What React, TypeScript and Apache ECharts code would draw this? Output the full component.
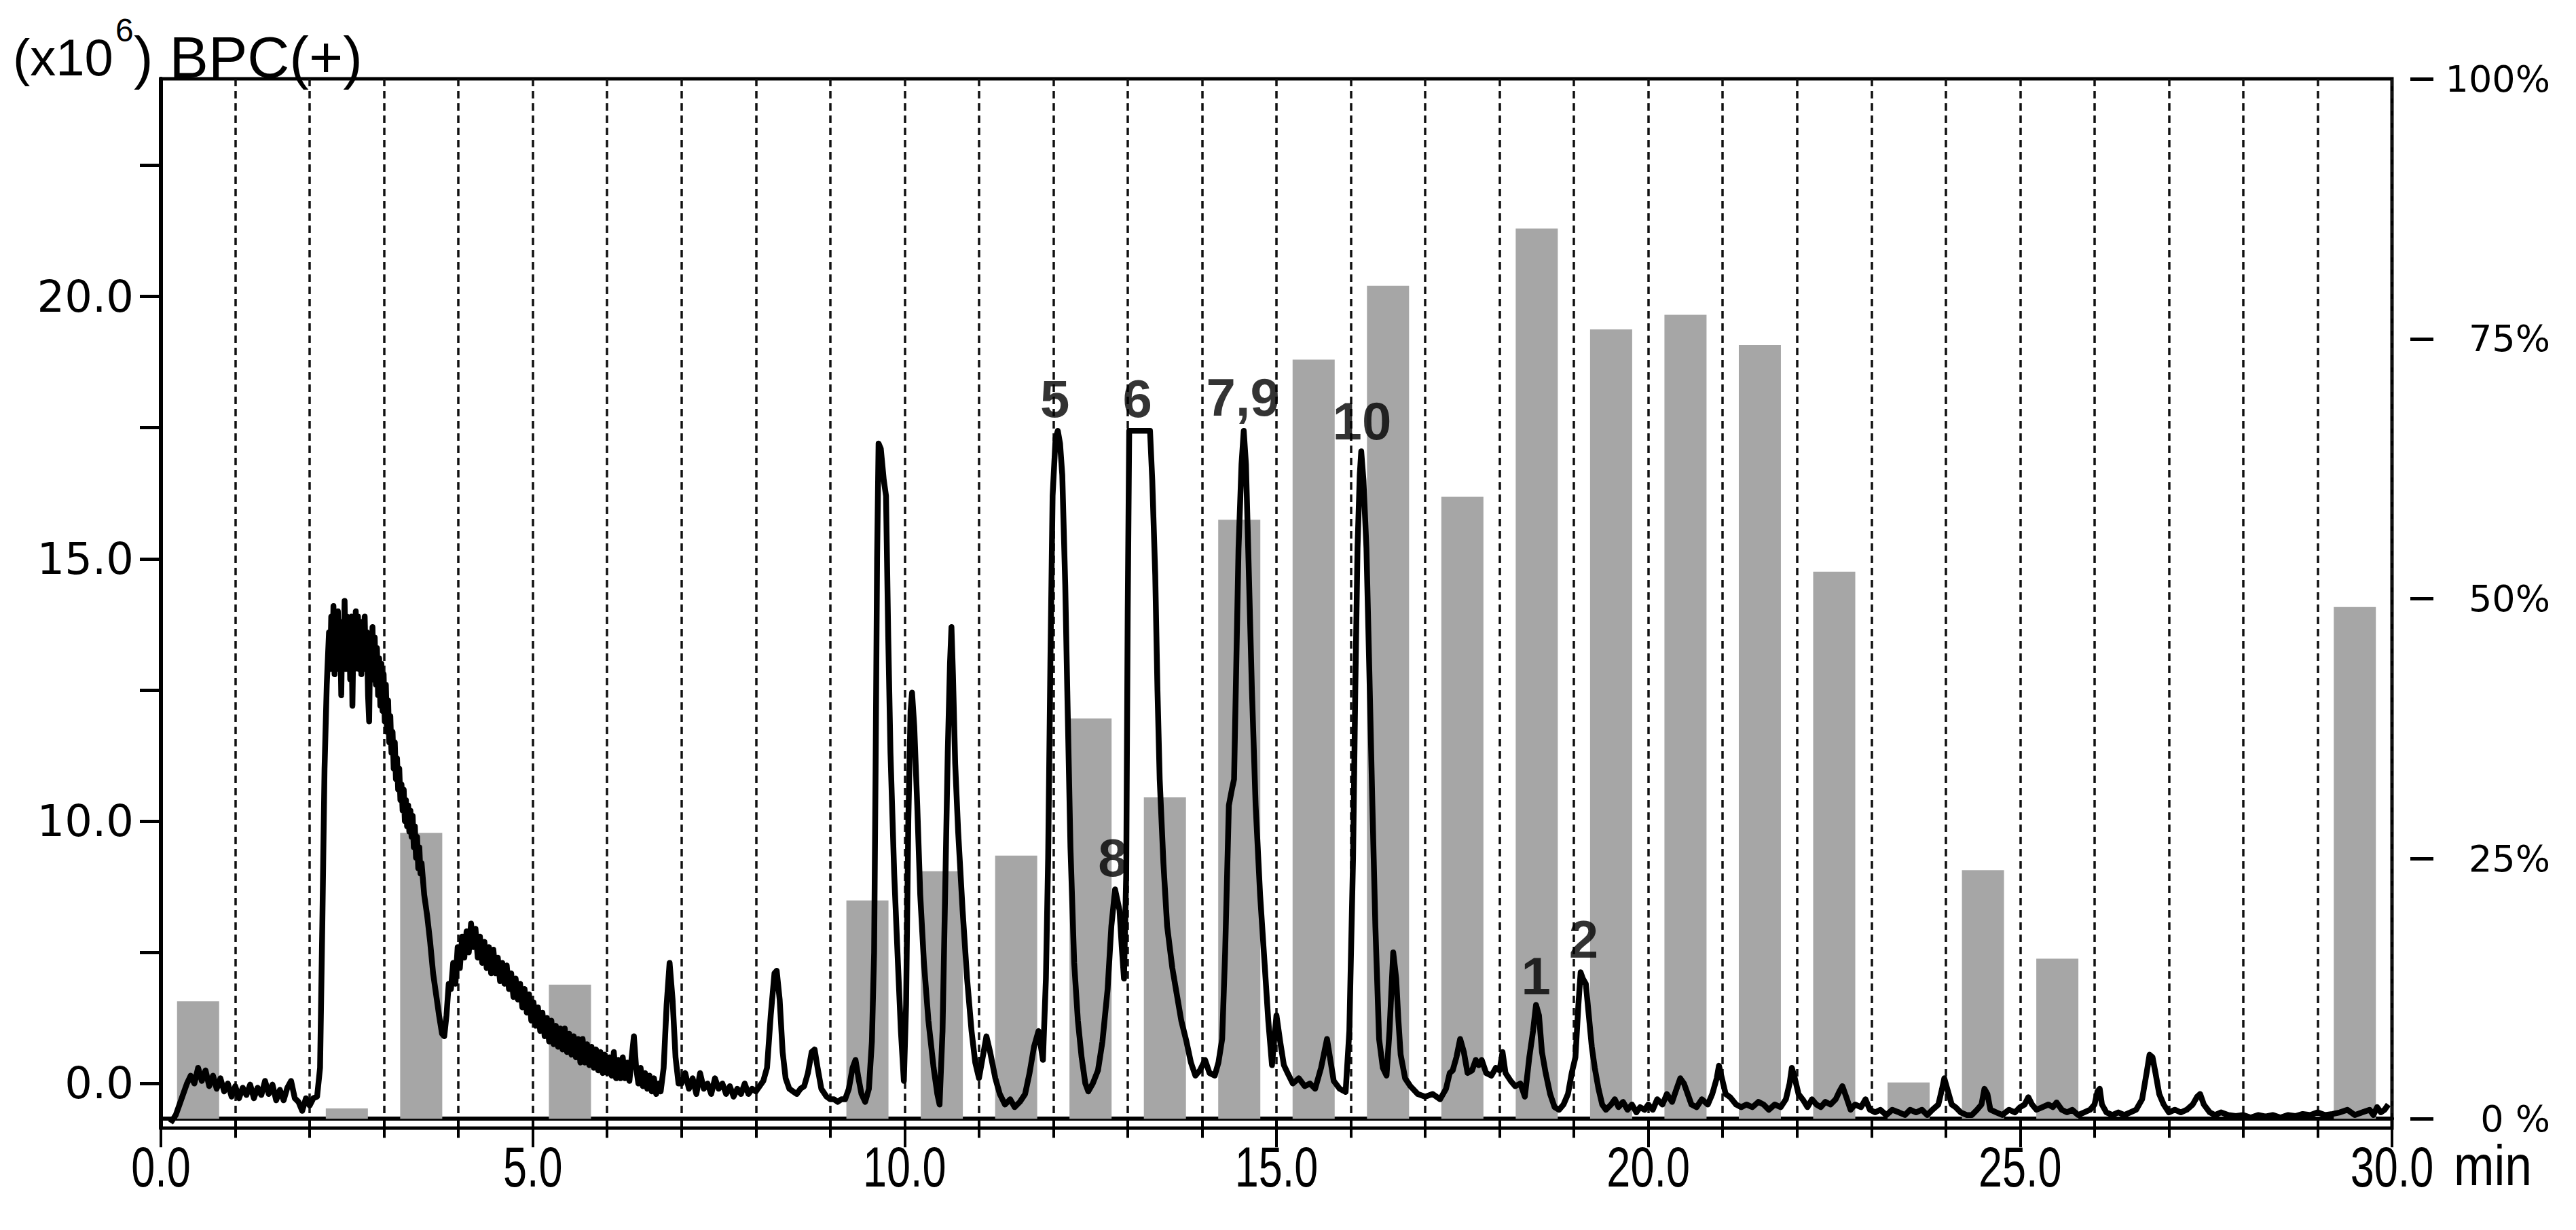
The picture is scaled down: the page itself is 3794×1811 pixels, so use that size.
import React, { useEffect, useRef } from "react";
import * as echarts from "echarts";

// ---------- data ----------
const xTickValues = [0, 5, 10, 15, 20, 25, 30];
const xTickLabels = ["0.0", "5.0", "10.0", "15.0", "20.0", "25.0", "30.0"];

const yLeftTicks = [5, 7.5, 10, 12.5, 15, 17.5, 20, 22.5];
const yLeftLabelValues = [5, 10, 15, 20];
const yLeftLabels = ["0.0", "10.0", "15.0", "20.0"];

const yRightTicks = [0, 25, 50, 75, 100];
const yRightLabels = ["0 %", "25%", "50%", "75%", "100%"];

const barTimes = [0.5, 2.5, 3.5, 5.5, 9.5, 10.5, 11.5, 12.5, 13.5, 14.5, 15.5, 16.5, 17.5, 18.5, 19.5, 20.5, 21.5, 22.5, 23.5, 24.5, 25.5, 29.5];
const barPercents = [11.3, 1.0, 27.5, 12.9, 21.0, 23.8, 25.3, 38.5, 30.9, 57.6, 73.0, 80.1, 59.8, 85.6, 75.9, 77.3, 74.4, 52.6, 3.5, 23.9, 15.4, 49.2];

const peakNames = ["5", "6", "7,9", "10", "8", "1", "2"];
const peakTimes = [12.02, 13.13, 14.55, 16.15, 12.8, 18.49, 19.13];
const peakLabelLevels = [18.05, 18.05, 18.08, 17.62, 9.3, 7.05, 7.75];

const chromatogram: [number, number][] = [
  [0.13, 4.25], [0.2, 4.4], [0.25, 4.6], [0.3, 4.8], [0.35, 5.0], [0.4, 5.15], [0.45, 5.0], [0.5, 5.3], [0.55, 5.05], [0.6, 5.25], [0.65, 4.95],
  [0.7, 5.15], [0.75, 4.9], [0.8, 5.1], [0.85, 4.85], [0.9, 5.0], [0.95, 4.75], [1.0, 4.95], [1.05, 4.72], [1.1, 4.92], [1.15, 4.78],
  [1.2, 4.98], [1.25, 4.72], [1.3, 4.92], [1.35, 4.78], [1.4, 5.05], [1.45, 4.8], [1.5, 4.98], [1.55, 4.68], [1.6, 4.88], [1.65, 4.68],
  [1.7, 4.92], [1.75, 5.05], [1.8, 4.72], [1.85, 4.65], [1.9, 4.48], [1.95, 4.72], [2.0, 4.58], [2.05, 4.72], [2.1, 4.75], [2.14, 5.3],
  [2.17, 8.0], [2.2, 11.0], [2.23, 12.6],
  [2.26, 13.6], [2.275, 12.9], [2.29, 13.9], [2.305, 13.0], [2.32, 14.1], [2.335, 12.8], [2.35, 13.8], [2.365, 13.1], [2.38, 14.0], [2.395, 12.9],
  [2.41, 13.7], [2.425, 12.4], [2.44, 13.8], [2.455, 13.0], [2.47, 14.2], [2.485, 12.9], [2.5, 13.9], [2.515, 13.1], [2.53, 13.8], [2.545, 12.7],
  [2.56, 13.9], [2.575, 12.2], [2.59, 13.6], [2.605, 12.9], [2.62, 14.0], [2.635, 13.0], [2.65, 13.9], [2.665, 12.9], [2.68, 13.8], [2.695, 12.8],
  [2.71, 13.7], [2.725, 13.0], [2.74, 13.9], [2.755, 12.9], [2.77, 13.6], [2.785, 12.4], [2.8, 11.9], [2.815, 13.5], [2.83, 12.8], [2.845, 13.7],
  [2.86, 12.7], [2.875, 13.5], [2.89, 12.6], [2.905, 13.3], [2.92, 12.4], [2.935, 13.1], [2.95, 12.2], [2.965, 13.0], [2.98, 12.1], [2.995, 12.8],
  [3.01, 11.9], [3.025, 12.6], [3.04, 11.7], [3.055, 12.3], [3.07, 11.5], [3.085, 12.0], [3.1, 11.3], [3.115, 11.7], [3.13, 11.0], [3.145, 11.5],
  [3.16, 10.8], [3.175, 11.2], [3.19, 10.6], [3.205, 11.0], [3.22, 10.4], [3.235, 10.7], [3.25, 10.2], [3.265, 10.6], [3.28, 10.0], [3.295, 10.4],
  [3.31, 9.9], [3.325, 10.3], [3.34, 9.8], [3.355, 10.2], [3.37, 9.7], [3.385, 10.1], [3.4, 9.5], [3.415, 9.9], [3.43, 9.3], [3.445, 9.7],
  [3.46, 9.1], [3.475, 9.5], [3.49, 9.0], [3.505, 9.2], [3.54, 8.6], [3.58, 8.2], [3.62, 7.7], [3.66, 7.1], [3.7, 6.7], [3.74, 6.3],
  [3.78, 5.95], [3.81, 5.9],
  [3.84, 6.3], [3.87, 6.9], [3.9, 6.8], [3.93, 7.3], [3.96, 6.9], [3.99, 7.6], [4.02, 7.2], [4.05, 7.8], [4.08, 7.4], [4.11, 7.9],
  [4.14, 7.5], [4.17, 8.05], [4.2, 7.6], [4.23, 7.95], [4.26, 7.4], [4.29, 7.8], [4.32, 7.3], [4.35, 7.7], [4.38, 7.2], [4.41, 7.6],
  [4.44, 7.1], [4.47, 7.55], [4.5, 7.1], [4.53, 7.4], [4.56, 6.95], [4.59, 7.3], [4.62, 6.9], [4.65, 7.25], [4.68, 6.8], [4.71, 7.1],
  [4.74, 6.65], [4.77, 7.0], [4.8, 6.6], [4.83, 6.9], [4.86, 6.45], [4.89, 6.8], [4.92, 6.35], [4.95, 6.7], [4.98, 6.2], [5.01, 6.55],
  [5.04, 6.1], [5.07, 6.45], [5.1, 6.0], [5.13, 6.35], [5.16, 5.9], [5.19, 6.25], [5.22, 5.8], [5.25, 6.2], [5.28, 5.75], [5.31, 6.1],
  [5.34, 5.7], [5.37, 6.05], [5.4, 5.65], [5.43, 6.05], [5.46, 5.6], [5.49, 5.95], [5.52, 5.55], [5.55, 5.9], [5.58, 5.5], [5.61, 5.85],
  [5.64, 5.4], [5.67, 5.85], [5.7, 5.4], [5.73, 5.75], [5.76, 5.35], [5.79, 5.7], [5.82, 5.3], [5.85, 5.65], [5.88, 5.25], [5.91, 5.6],
  [5.94, 5.2], [5.97, 5.55], [6.0, 5.2], [6.03, 5.5], [6.06, 5.15], [6.09, 5.6], [6.12, 5.1], [6.15, 5.45], [6.18, 5.1], [6.21, 5.5],
  [6.24, 5.1], [6.27, 5.4], [6.3, 5.05], [6.33, 5.5], [6.36, 5.9], [6.39, 5.3], [6.42, 5.0], [6.45, 5.3], [6.48, 4.95], [6.51, 5.2],
  [6.54, 4.9], [6.57, 5.15], [6.6, 4.85], [6.63, 5.1], [6.66, 4.8], [6.69, 5.0], [6.72, 4.85], [6.76, 5.3], [6.8, 6.5], [6.84, 7.3],
  [6.88, 6.6], [6.92, 5.5], [6.96, 5.0],
  [7.0, 5.0], [7.05, 5.2], [7.1, 4.9], [7.15, 5.1], [7.2, 4.8], [7.25, 5.2], [7.3, 4.9], [7.35, 5.0], [7.4, 4.8], [7.45, 5.1],
  [7.5, 4.9], [7.55, 5.0], [7.6, 4.8], [7.65, 4.95], [7.7, 4.75], [7.75, 4.9], [7.8, 4.8], [7.85, 5.0], [7.9, 4.8], [7.95, 4.9],
  [8.0, 4.85], [8.05, 4.95], [8.1, 5.05], [8.15, 5.3], [8.2, 6.3], [8.25, 7.1], [8.28, 7.15], [8.32, 6.6], [8.36, 5.6], [8.4, 5.1],
  [8.45, 4.9], [8.5, 4.85], [8.55, 4.8], [8.6, 4.9], [8.65, 4.95], [8.7, 5.2], [8.75, 5.6], [8.79, 5.65], [8.83, 5.3], [8.88, 4.9],
  [8.95, 4.75], [9.0, 4.7], [9.05, 4.7], [9.1, 4.65], [9.15, 4.7], [9.2, 4.7], [9.25, 4.9], [9.3, 5.3], [9.34, 5.45], [9.38, 5.1],
  [9.42, 4.8], [9.47, 4.65], [9.52, 4.9], [9.56, 5.8], [9.59, 7.5], [9.61, 11.0], [9.63, 15.0], [9.65, 17.2], [9.68, 17.1], [9.72, 16.5],
  [9.75, 16.2], [9.78, 13.5], [9.81, 11.3], [9.86, 9.0], [9.91, 7.3], [9.95, 6.0], [9.99, 5.05], [10.02, 6.5], [10.05, 10.0], [10.08, 12.1],
  [10.1, 12.45], [10.13, 11.8], [10.17, 10.3], [10.21, 8.6], [10.26, 7.3], [10.32, 6.2], [10.39, 5.3], [10.44, 4.8], [10.47, 4.6], [10.51, 6.0],
  [10.55, 9.0], [10.58, 11.3], [10.61, 13.0], [10.63, 13.7], [10.65, 12.8], [10.68, 11.1], [10.72, 9.8], [10.78, 8.3], [10.84, 7.0], [10.9, 6.0],
  [10.95, 5.4], [11.0, 5.1], [11.05, 5.5], [11.1, 5.9], [11.15, 5.6], [11.22, 5.1], [11.28, 4.8], [11.35, 4.6], [11.42, 4.7], [11.48, 4.55],
  [11.55, 4.65], [11.62, 4.8], [11.68, 5.2], [11.74, 5.7], [11.8, 6.0], [11.86, 5.45], [11.9, 7.0], [11.93, 9.3], [11.96, 13.0], [11.99, 16.2],
  [12.03, 17.3], [12.06, 17.44], [12.09, 17.2], [12.12, 16.6], [12.16, 14.5], [12.19, 12.3], [12.23, 9.5], [12.28, 7.3], [12.33, 6.2], [12.38, 5.5],
  [12.43, 5.0], [12.47, 4.85], [12.53, 5.0], [12.6, 5.25], [12.66, 5.8], [12.73, 6.8], [12.78, 8.0], [12.83, 8.7], [12.86, 8.5], [12.89, 8.3],
  [12.92, 7.6], [12.95, 7.0], [12.98, 9.0], [13.0, 14.0], [13.02, 17.44], [13.1, 17.44], [13.2, 17.44], [13.3, 17.44], [13.33, 16.5], [13.37, 14.7],
  [13.4, 12.5], [13.43, 10.8], [13.48, 9.2], [13.53, 8.0], [13.6, 7.2], [13.66, 6.7], [13.72, 6.2], [13.79, 5.8], [13.85, 5.4], [13.91, 5.15],
  [13.97, 5.25], [14.04, 5.45], [14.1, 5.2], [14.17, 5.15], [14.22, 5.4], [14.27, 5.85], [14.31, 7.5], [14.36, 10.3], [14.4, 10.6], [14.43, 10.8],
  [14.46, 13.0], [14.49, 15.2], [14.53, 16.8], [14.56, 17.44], [14.59, 16.8], [14.62, 15.2], [14.67, 12.5], [14.72, 10.3], [14.78, 8.6], [14.84, 7.3],
  [14.89, 6.2], [14.94, 5.35], [15.0, 6.3], [15.05, 5.8], [15.1, 5.35], [15.15, 5.2], [15.22, 5.0], [15.3, 5.1], [15.38, 4.95], [15.45, 5.0],
  [15.52, 4.9], [15.6, 5.3], [15.68, 5.85], [15.73, 5.4], [15.77, 5.05], [15.85, 4.9], [15.93, 4.84], [15.98, 6.0], [16.03, 9.3], [16.06, 12.5],
  [16.09, 15.2], [16.12, 16.6], [16.14, 17.05], [16.17, 16.5], [16.21, 15.2], [16.25, 12.8], [16.29, 10.3], [16.33, 8.0], [16.38, 5.85], [16.43, 5.3],
  [16.48, 5.15], [16.52, 6.0], [16.57, 7.5], [16.61, 7.0], [16.64, 6.2], [16.67, 5.55], [16.73, 5.1], [16.8, 4.95], [16.9, 4.8], [17.0, 4.75],
  [17.1, 4.8], [17.2, 4.7], [17.28, 4.9], [17.33, 5.2], [17.37, 5.25], [17.42, 5.5], [17.47, 5.85], [17.52, 5.6], [17.57, 5.2], [17.63, 5.25],
  [17.68, 5.45], [17.72, 5.35], [17.76, 5.45], [17.82, 5.2], [17.89, 5.15], [17.95, 5.3], [18.0, 5.25], [18.04, 5.6], [18.08, 5.2], [18.15, 5.05],
  [18.21, 4.95], [18.28, 5.0], [18.34, 4.75], [18.4, 5.5], [18.45, 6.0], [18.49, 6.5], [18.53, 6.3], [18.57, 5.6], [18.62, 5.2], [18.68, 4.8],
  [18.74, 4.55], [18.8, 4.5], [18.86, 4.6], [18.92, 4.8], [18.97, 5.2], [19.02, 5.5], [19.06, 6.5], [19.09, 7.12], [19.12, 7.0], [19.16, 6.9],
  [19.2, 6.3], [19.24, 5.7], [19.28, 5.3], [19.33, 4.9], [19.38, 4.6], [19.43, 4.5], [19.5, 4.6], [19.55, 4.7], [19.6, 4.55], [19.66, 4.65],
  [19.72, 4.5], [19.78, 4.6], [19.84, 4.45], [19.89, 4.55], [19.95, 4.5], [20.0, 4.6], [20.06, 4.5], [20.12, 4.7], [20.19, 4.6], [20.25, 4.8],
  [20.32, 4.65], [20.38, 4.9], [20.43, 5.1], [20.48, 5.0], [20.53, 4.8], [20.58, 4.6], [20.65, 4.55], [20.72, 4.7], [20.8, 4.6], [20.86, 4.8],
  [20.92, 5.1], [20.95, 5.34], [20.99, 5.1], [21.04, 4.8], [21.1, 4.74], [21.18, 4.6], [21.25, 4.55], [21.32, 4.6], [21.4, 4.55], [21.48, 4.65],
  [21.55, 4.6], [21.62, 4.5], [21.7, 4.6], [21.78, 4.55], [21.85, 4.7], [21.9, 5.0], [21.93, 5.3], [21.97, 5.1], [22.02, 4.8], [22.08, 4.69],
  [22.14, 4.55], [22.2, 4.7], [22.26, 4.6], [22.32, 4.55], [22.38, 4.65], [22.45, 4.6], [22.52, 4.7], [22.57, 4.85], [22.61, 4.95], [22.66, 4.75],
  [22.72, 4.5], [22.78, 4.6], [22.86, 4.55], [22.92, 4.7], [22.98, 4.5], [23.05, 4.45], [23.12, 4.5], [23.2, 4.4], [23.28, 4.5], [23.37, 4.45],
  [23.45, 4.4], [23.52, 4.5], [23.6, 4.45], [23.68, 4.5], [23.75, 4.4], [23.82, 4.5], [23.9, 4.6], [23.95, 4.9], [23.98, 5.1], [24.02, 4.9],
  [24.08, 4.6], [24.13, 4.55], [24.2, 4.45], [24.28, 4.4], [24.35, 4.4], [24.42, 4.5], [24.48, 4.6], [24.52, 4.9], [24.56, 4.8], [24.6, 4.5],
  [24.68, 4.45], [24.76, 4.4], [24.85, 4.5], [24.93, 4.45], [25.0, 4.55], [25.06, 4.6], [25.11, 4.74], [25.16, 4.6], [25.22, 4.5], [25.3, 4.55],
  [25.38, 4.6], [25.44, 4.55], [25.49, 4.64], [25.56, 4.5], [25.63, 4.45], [25.7, 4.5], [25.78, 4.4], [25.86, 4.45], [25.94, 4.5], [26.0, 4.6],
  [26.04, 4.85], [26.07, 4.9], [26.1, 4.6], [26.16, 4.45], [26.24, 4.4], [26.32, 4.45], [26.4, 4.4], [26.48, 4.45], [26.56, 4.5], [26.64, 4.7],
  [26.7, 5.2], [26.74, 5.55], [26.78, 5.5], [26.82, 5.2], [26.87, 4.8], [26.93, 4.6], [27.0, 4.45], [27.08, 4.5], [27.16, 4.45], [27.24, 4.5],
  [27.32, 4.6], [27.38, 4.75], [27.42, 4.8], [27.47, 4.6], [27.55, 4.45], [27.62, 4.4], [27.7, 4.45], [27.8, 4.4], [27.9, 4.38], [28.0, 4.4],
  [28.1, 4.35], [28.2, 4.4], [28.3, 4.37], [28.4, 4.4], [28.5, 4.35], [28.6, 4.4], [28.7, 4.38], [28.8, 4.42], [28.9, 4.4], [29.0, 4.45],
  [29.1, 4.4], [29.2, 4.42], [29.3, 4.45], [29.4, 4.5], [29.5, 4.4], [29.6, 4.45], [29.7, 4.5], [29.75, 4.4], [29.8, 4.55], [29.85, 4.45],
  [29.9, 4.5], [29.95, 4.6],
];

// ---------- axis ranges ----------
const X_MIN = 0;
const X_MAX = 30;
const YL_MIN = 4.15;
const YL_MAX = 24.15;
const YR_MIN = -0.9;
const YR_MAX = 100;

const SANS = "'Liberation Sans', Arial, sans-serif";
const WIDE = "'DejaVu Sans', Verdana, sans-serif";

export default function App() {
  const ref = useRef<HTMLDivElement>(null);

  useEffect(() => {
    document.body.style.margin = "0";
    document.body.style.overflow = "hidden";
    if (!ref.current) return;
    const chart = echarts.init(ref.current, undefined, { renderer: "svg" });

    const dashStyle = { color: "#111", width: 3.5, type: [11, 7] as any };
    const textBase = { fill: "#000", verticalAlign: "middle", textVerticalAlign: "middle", align: "left", textAlign: "left" };

    const option: any = {
      animation: false,
      backgroundColor: "#fff",
      grid: {
        left: 237,
        right: 271,
        top: 116,
        bottom: 150,
        show: true,
        borderColor: "#000",
        borderWidth: 5,
        backgroundColor: "transparent",
        containLabel: false,
        outerBoundsMode: "none",
      },
      xAxis: {
        type: "value",
        min: X_MIN,
        max: X_MAX,
        interval: 5,
        axisLine: { show: true, lineStyle: { color: "#000", width: 6 } },
        axisTick: { show: true, length: 42, lineStyle: { color: "#000", width: 4 } },
        minorTick: { show: true, splitNumber: 5, length: 28, lineStyle: { color: "#000", width: 4 } },
        splitLine: { show: true, lineStyle: dashStyle },
        minorSplitLine: { show: true, lineStyle: dashStyle },
        axisLabel: { show: false },
      },
      yAxis: [
        {
          type: "value",
          position: "left",
          min: YL_MIN,
          max: YL_MAX,
          axisLine: { show: true, lineStyle: { color: "#000", width: 6 } },
          axisTick: { show: true, length: 31, customValues: yLeftTicks, lineStyle: { color: "#000", width: 5 } },
          axisLabel: {
            show: true,
            customValues: yLeftLabelValues,
            formatter: (v: number) => yLeftLabels[yLeftLabelValues.indexOf(v)] ?? "",
            fontFamily: WIDE,
            fontSize: 64,
            color: "#000",
            margin: 40,
          },
          splitLine: { show: false },
        },
        {
          type: "value",
          position: "right",
          min: YR_MIN,
          max: YR_MAX,
          offset: 27,
          axisLine: { show: false },
          axisTick: { show: true, length: 34, customValues: yRightTicks, lineStyle: { color: "#000", width: 5 } },
          axisLabel: {
            show: true,
            customValues: yRightTicks,
            formatter: (v: number) => yRightLabels[yRightTicks.indexOf(v)] ?? "",
            fontFamily: WIDE,
            fontSize: 54,
            color: "#000",
            align: "right",
            margin: 206,
          },
          splitLine: { show: false },
        },
      ],
      graphic: [
        {
          type: "text",
          x: 19,
          y: 84,
          style: { ...textBase, text: "(x10", fontSize: 76, fontFamily: SANS },
        },
        {
          type: "text",
          x: 170,
          y: 44,
          style: { ...textBase, text: "6", fontSize: 48, fontFamily: SANS },
        },
        {
          type: "text",
          x: 197,
          y: 84,
          style: { ...textBase, text: ") BPC(+)", fontSize: 86, fontFamily: SANS },
        },
        {
          type: "text",
          x: 3614,
          y: 1716,
          scaleX: 0.85,
          style: { ...textBase, text: "min", fontSize: 84, fontFamily: SANS },
        },
      ],
      series: [
        {
          type: "bar",
          xAxisIndex: 0,
          yAxisIndex: 1,
          barWidth: 62,
          itemStyle: { color: "#a6a6a6" },
          z: 1,
          data: barTimes.map((t, i) => [t, barPercents[i]]),
        },
        {
          type: "line",
          xAxisIndex: 0,
          yAxisIndex: 0,
          showSymbol: false,
          symbol: "none",
          lineStyle: { color: "#000", width: 8.5, join: "round" },
          z: 3,
          data: chromatogram,
        },
        {
          type: "scatter",
          xAxisIndex: 0,
          yAxisIndex: 0,
          symbolSize: 0,
          z: 4,
          label: {
            show: true,
            position: "inside",
            formatter: "{b}",
            fontFamily: SANS,
            fontWeight: "bold",
            fontSize: 78,
            color: "#000",
          },
          data: peakNames.map((n, i) => ({ name: n, value: [peakTimes[i], peakLabelLevels[i]] })),
        },
        {
          type: "custom",
          xAxisIndex: 0,
          yAxisIndex: 0,
          clip: false,
          silent: true,
          z: 5,
          data: xTickValues.map((v) => [v, YL_MIN]),
          renderItem: (params: any, api: any) => {
            const v = api.value(0);
            const p = api.coord([v, YL_MIN]);
            return {
              type: "text",
              x: p[0],
              y: p[1] + 57,
              scaleX: 0.75,
              style: {
                text: xTickLabels[params.dataIndex],
                fontSize: 84,
                fontFamily: SANS,
                fill: "#000",
                align: "center",
                verticalAlign: "middle",
                textAlign: "center",
                textVerticalAlign: "middle",
              },
            };
          },
        },
      ],
    };

    chart.setOption(option);
    return () => chart.dispose();
  }, []);

  return <div ref={ref} style={{ width: 3794, height: 1811 }} />;
}
